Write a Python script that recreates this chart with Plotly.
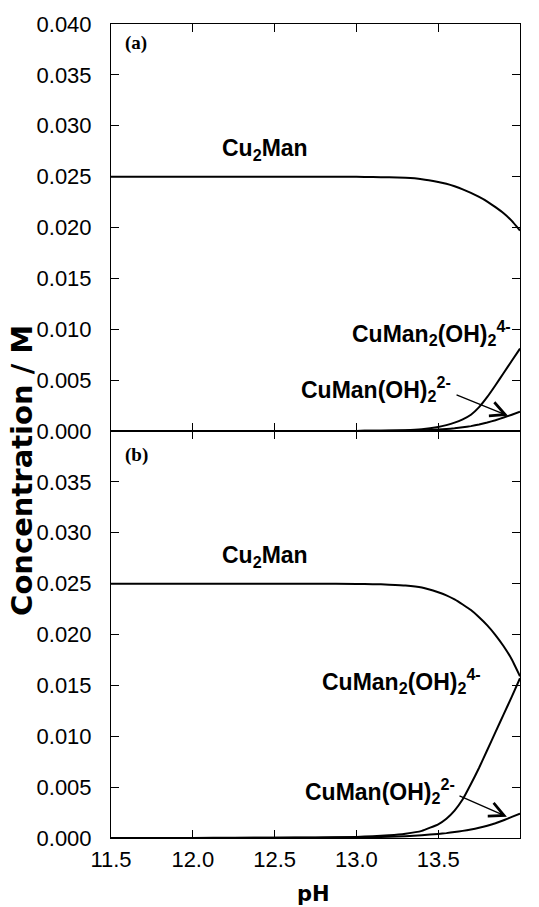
import plotly.graph_objects as go

# pH grid shared by both panels
ph = [11.5, 11.75, 12.0, 12.25, 12.5, 12.75, 13.0, 13.1, 13.2, 13.3, 13.4, 13.5,
      13.55, 13.6, 13.65, 13.7, 13.75, 13.8, 13.85, 13.9, 13.95, 14.0]

# panel (a) species concentrations / M
a_cu2man = [0.02500, 0.02500, 0.02500, 0.02500, 0.02500, 0.02500, 0.02498, 0.02496,
            0.02493, 0.02488, 0.02475, 0.02448, 0.02430, 0.02405, 0.02375, 0.02340,
            0.02300, 0.02255, 0.02200, 0.02140, 0.02065, 0.01970]
a_cuman2oh2 = [0.0, 0.0, 0.0, 0.0, 0.0, 0.0, 0.00001, 0.00002,
               0.00004, 0.00008, 0.00018, 0.00040, 0.00058, 0.00082, 0.00115, 0.00160,
               0.00235, 0.00335, 0.00450, 0.00570, 0.00690, 0.00810]
a_cumanoh2 = [0.0, 0.0, 0.0, 0.0, 0.0, 0.0, 0.00001, 0.00002,
              0.00003, 0.00005, 0.00008, 0.00014, 0.00019, 0.00026, 0.00036, 0.00048,
              0.00064, 0.00083, 0.00106, 0.00132, 0.00160, 0.00190]

# panel (b) species concentrations / M
b_cu2man = [0.02500, 0.02500, 0.02500, 0.02500, 0.02500, 0.02499, 0.02497, 0.02495,
            0.02490, 0.02482, 0.02462, 0.02415, 0.02385, 0.02345, 0.02295, 0.02240,
            0.02170, 0.02090, 0.01995, 0.01885, 0.01755, 0.01590]
b_cuman2oh2 = [0.0, 0.0, 0.00001, 0.00002, 0.00003, 0.00006, 0.00011, 0.00017,
               0.00026, 0.00042, 0.00070, 0.00135, 0.00190, 0.00270, 0.00380, 0.00530,
               0.00690, 0.00865, 0.01040, 0.01215, 0.01390, 0.01570]
b_cumanoh2 = [0.0, 0.0, 0.00001, 0.00001, 0.00002, 0.00003, 0.00005, 0.00008,
              0.00012, 0.00018, 0.00027, 0.00040, 0.00048, 0.00058, 0.00070, 0.00084,
              0.00100, 0.00120, 0.00145, 0.00175, 0.00207, 0.00240]

x_ticks = [11.5, 12.0, 12.5, 13.0, 13.5, 14.0]
y_ticks_a = [0.000, 0.005, 0.010, 0.015, 0.020, 0.025, 0.030, 0.035, 0.040]
y_ticks_b = [0.000, 0.005, 0.010, 0.015, 0.020, 0.025, 0.030, 0.035]

SANS = "Liberation Sans"
SERIF = "Liberation Serif"
TITLE = "DejaVu Sans"

fig = go.Figure()
line = dict(color="black", width=2, shape="spline", smoothing=0.3)
for series in (a_cu2man, a_cuman2oh2, a_cumanoh2):
    fig.add_trace(go.Scatter(x=ph, y=series, mode="lines", line=line,
                             xaxis="x", yaxis="y", showlegend=False, hoverinfo="skip"))
for series in (b_cu2man, b_cuman2oh2, b_cumanoh2):
    fig.add_trace(go.Scatter(x=ph, y=series, mode="lines", line=line,
                             xaxis="x2", yaxis="y2", showlegend=False, hoverinfo="skip"))

axis_common = dict(showline=True, linecolor="black", linewidth=1, mirror="ticks",
                   ticks="inside", ticklen=8, tickwidth=1, tickcolor="black",
                   showgrid=False, zeroline=False,
                   tickfont=dict(family=SANS, size=22, color="black"))

fig.update_layout(
    width=539, height=907,
    margin=dict(l=111, r=19, t=22, b=69),
    paper_bgcolor="white", plot_bgcolor="white",
    xaxis=dict(domain=[0, 1], range=[11.5, 14.0], anchor="y", tickvals=x_ticks,
               showticklabels=False, **axis_common),
    yaxis=dict(domain=[0.5, 1], range=[0, 0.04], anchor="x", tickvals=y_ticks_a,
               tickformat=".3f", ticklabelstandoff=14, **axis_common),
    xaxis2=dict(domain=[0, 1], range=[11.5, 14.0], anchor="y2", tickvals=x_ticks,
                tickformat=".1f", ticklabelstandoff=2, **axis_common),
    yaxis2=dict(domain=[0, 0.5], range=[0, 0.04], anchor="x2", tickvals=y_ticks_b,
                tickformat=".3f", ticklabelstandoff=14, **axis_common),
)

lab = dict(family=SANS, size=23, color="black", weight="bold")
tag = dict(family=SERIF, size=19, color="black", weight="bold")
ann = []
# panel tags
ann.append(dict(x=11.653, y=0.0381, xref="x", yref="y", text="(a)", showarrow=False, font=tag))
ann.append(dict(x=11.653, y=0.03765, xref="x2", yref="y2", text="(b)", showarrow=False, font=tag))
# species labels, panel (a)
ann.append(dict(x=12.441, y=0.0277, xref="x", yref="y", text="Cu<sub>2</sub>Man",
                showarrow=False, font=lab))
ann.append(dict(x=13.955, y=0.0096, xref="x", yref="y", xanchor="right",
                text="CuMan<sub>2</sub>(OH)<sub>2</sub><sup>4-</sup>", showarrow=False, font=lab))
ann.append(dict(x=13.59, y=0.0041, xref="x", yref="y", xanchor="right",
                text="CuMan(OH)<sub>2</sub><sup>2-</sup>", showarrow=False, font=lab))
# species labels, panel (b)
ann.append(dict(x=12.441, y=0.0277, xref="x2", yref="y2", text="Cu<sub>2</sub>Man",
                showarrow=False, font=lab))
ann.append(dict(x=13.775, y=0.01540, xref="x2", yref="y2", xanchor="right",
                text="CuMan<sub>2</sub>(OH)<sub>2</sub><sup>4-</sup>", showarrow=False, font=lab))
ann.append(dict(x=13.612, y=0.00465, xref="x2", yref="y2", xanchor="right",
                text="CuMan(OH)<sub>2</sub><sup>2-</sup>", showarrow=False, font=lab))
# pointer arrows to the CuMan(OH)2 2- curves
ann.append(dict(x=13.927, y=0.00150, ax=13.603, ay=0.0036, xref="x", yref="y",
                axref="x", ayref="y", text="", showarrow=True, arrowhead=5,
                arrowsize=2.2, arrowwidth=1.3, arrowcolor="black", standoff=0))
ann.append(dict(x=13.920, y=0.00210, ax=13.621, ay=0.0042, xref="x2", yref="y2",
                axref="x2", ayref="y2", text="", showarrow=True, arrowhead=5,
                arrowsize=2.2, arrowwidth=1.3, arrowcolor="black", standoff=0))
# axis titles
ann.append(dict(x=-0.2176, y=0.451, xref="paper", yref="paper", text="Concentration / M",
                textangle=-90, showarrow=False, xanchor="center", yanchor="middle",
                font=dict(family=TITLE, size=29, color="black", weight="bold")))
ann.append(dict(x=0.494, y=-0.0686, xref="paper", yref="paper", text="pH",
                showarrow=False, xanchor="center", yanchor="middle",
                font=dict(family=TITLE, size=21, color="black", weight="bold")))
fig.update_layout(annotations=ann)

fig.write_html("out.html")
